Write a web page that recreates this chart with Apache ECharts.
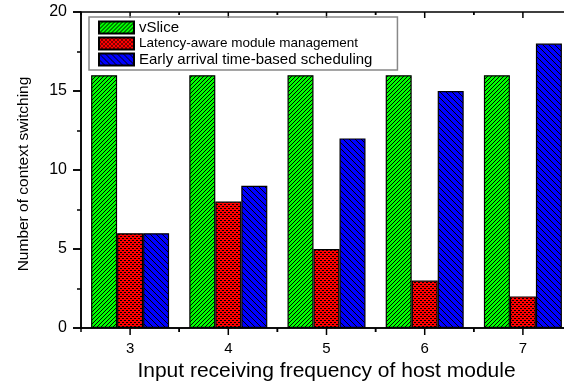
<!DOCTYPE html>
<html>
<head>
<meta charset="utf-8">
<script src="https://cdn.jsdelivr.net/npm/echarts@6/dist/echarts.min.js"></script>
<style>
  html, body { margin: 0; padding: 0; background: #fff; }
  #chart { width: 564px; height: 381px; }
</style>
</head>
<body>
<div id="chart"></div>
<script>
// data
const categories = ["3", "4", "5", "6", "7"];
const vSlice = [16, 16, 16, 16, 16];
const latencyAware = [6, 8, 5, 3, 2];
const earlyArrival = [6, 9, 12, 15, 18];
const seriesNames = [
  "vSlice",
  "Latency-aware module management",
  "Early arrival time-based scheduling"
];
const yTickValues = [0, 5, 10, 15, 20];

const FONT = "'Liberation Sans', Arial, sans-serif";

// small repeating tiles for the hatch fills
function hatch(bg, size, draw) {
  const c = document.createElement("canvas");
  c.width = size;
  c.height = size;
  const ctx = c.getContext("2d");
  ctx.fillStyle = bg;
  ctx.fillRect(0, 0, size, size);
  ctx.fillStyle = "#000";
  draw(ctx, size);
  return { image: c, repeat: "repeat" };
}

const greenFill = hatch("#00ff00", 4, (ctx, n) => {
  for (let i = 0; i < n; i++) ctx.fillRect(n - 1 - i, i, 1, 1);
});
const redFill = hatch("#ff0000", 4, (ctx) => {
  ctx.fillRect(0, 0, 2, 1);
  ctx.fillRect(2, 2, 2, 1);
});
const blueFill = hatch("#0000ff", 6, (ctx, n) => {
  for (let i = 0; i < n; i++) ctx.fillRect(i, i, 1, 1);
});

const lineBlack = () => ({ color: "#000", width: 1.5 });
const tickStyle = { stroke: "#000", lineWidth: 1.5 };

const bar = (name, data, fill) => ({
  name,
  type: "bar",
  data,
  barWidth: 26,
  barGap: "0%",
  itemStyle: { color: fill, borderColor: "#000", borderWidth: 1.2 }
});

const tick = (x1, y1, x2, y2) => ({ type: "line", shape: { x1, y1, x2, y2 }, style: tickStyle });

// major ticks of this echarts build did not show up, so the frame ticks
// are drawn by custom series placed through the axes' own coordinates
const xFrameTicks = {
  name: "xTicks",
  type: "custom",
  silent: true,
  clip: false,
  data: categories.map((c, i) => [i]),
  renderItem(params, api) {
    const i = api.value(0);
    const [cx, bottom] = api.coord([i, 0]);
    const top = api.coord([i, 20])[1];
    const half = api.size([1, 0])[0] / 2;
    return {
      type: "group",
      children: [
        tick(cx, bottom, cx, bottom + 7),
        tick(cx - half, bottom, cx - half, bottom + 4),
        tick(cx + half, bottom, cx + half, bottom + 4),
        tick(cx, top, cx, top + 6),
        tick(cx - half, top, cx - half, top + 3),
        tick(cx + half, top, cx + half, top + 3)
      ]
    };
  }
};

const yFrameTicks = {
  name: "yTicks",
  type: "custom",
  silent: true,
  clip: false,
  data: yTickValues.map((v) => [0, v]),
  renderItem(params, api) {
    const [cx, y] = api.coord([0, api.value(1)]);
    const x = cx - api.size([1, 0])[0] / 2;
    return tick(x - 8, y, x, y);
  }
};

const chart = echarts.init(document.getElementById("chart"));

chart.setOption({
  animation: false,
  grid: {
    left: 81, top: 12, width: 491, height: 316,
    outerBoundsMode: "none",
    show: true,
    borderColor: "#000",
    borderWidth: 1.5,
    backgroundColor: "transparent"
  },
  legend: {
    orient: "vertical",
    left: 89,
    top: 17,
    padding: [3, 25, 3, 9],
    itemWidth: 35,
    itemHeight: 12,
    itemGap: 1.5,
    icon: "rect",
    borderColor: "#888",
    borderWidth: 1.5,
    textStyle: { fontFamily: FONT, fontSize: 15, color: "#000" },
    data: [
      { name: seriesNames[0] },
      { name: seriesNames[1], textStyle: { fontSize: 13.5 } },
      { name: seriesNames[2] }
    ]
  },
  xAxis: {
    type: "category",
    data: categories,
    axisLine: { onZero: false, lineStyle: lineBlack() },
    axisTick: { show: false },
    axisLabel: { fontFamily: FONT, fontSize: 15, color: "#000", margin: 13 },
    name: "Input receiving frequency of host module",
    nameLocation: "middle",
    nameGap: 30,
    nameTextStyle: { fontFamily: FONT, fontSize: 21, color: "#000" }
  },
  yAxis: {
    type: "value",
    min: 0,
    max: 20,
    interval: 5,
    axisLine: { show: true, lineStyle: lineBlack() },
    axisTick: { show: true, length: 8, lineStyle: lineBlack() },
    minorTick: { show: true, splitNumber: 2, length: 4, lineStyle: lineBlack() },
    splitLine: { show: false },
    axisLabel: { fontFamily: FONT, fontSize: 16, color: "#000", margin: 14 },
    name: "Number of context switching",
    nameLocation: "middle",
    nameGap: 49,
    nameTextStyle: { fontFamily: FONT, fontSize: 15.5, color: "#000", padding: [0, 8, 0, 0] }
  },
  series: [
    bar(seriesNames[0], vSlice, greenFill),
    bar(seriesNames[1], latencyAware, redFill),
    bar(seriesNames[2], earlyArrival, blueFill),
    xFrameTicks,
    yFrameTicks
  ]
});
</script>
</body>
</html>
